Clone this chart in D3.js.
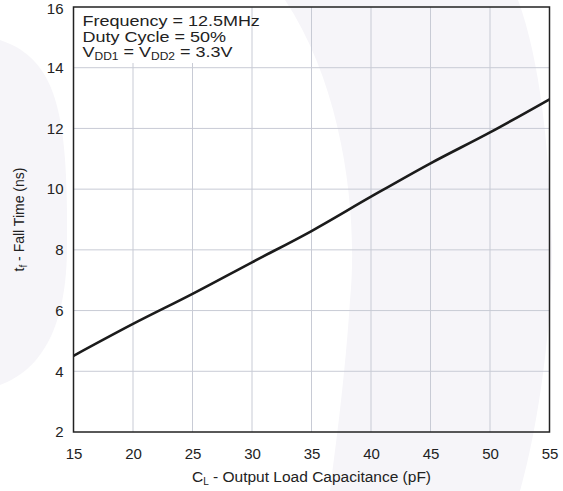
<!DOCTYPE html>
<html>
<head>
<meta charset="utf-8">
<script src="https://cdn.jsdelivr.net/npm/d3@7"></script>
<style>
  body { margin: 0; background: #fff; }
  svg { display: block; font-family: "Liberation Sans", Arial, sans-serif; }
</style>
</head>
<body>
<svg id="chart" width="563" height="491"></svg>
<script>
// fall time vs load capacitance
const capacitance = [15, 20, 25, 30, 35, 40, 45, 50, 55];
const fallTime = [4.51, 5.56, 6.55, 7.59, 8.62, 9.75, 10.85, 11.87, 12.96];
const xTicks = [15, 20, 25, 30, 35, 40, 45, 50, 55];
const yTicks = [2, 4, 6, 8, 10, 12, 14, 16];
const noteLines = ["Frequency = 12.5MHz", "Duty Cycle = 50%"];

const width = 563;
const height = 491;
const margin = {left: 73.5, right: 13.5, top: 7, bottom: 59};
const plotWidth = width - margin.left - margin.right;
const plotHeight = height - margin.top - margin.bottom;

const svg = d3.select("#chart");

// faint watermark in the background
const wmColor = "#f6f5f9";
svg.append("path")
    .attr("d", "M0,40 C60,60 68,120 67,250 C66,330 40,370 0,385 Z")
    .attr("fill", wmColor);
svg.append("path")
    .attr("d", "M285,0 C345,90 358,220 350,300 C345,380 335,450 330,491 L520,491 C540,420 552,320 552,250 C550,150 540,60 518,0 Z")
    .attr("fill", wmColor);

const xScale = d3.scaleLinear()
    .domain([15, 55])
    .range([0, plotWidth]);
const yScale = d3.scaleLinear()
    .domain([2, 16])
    .range([plotHeight, 0]);

const plot = svg.append("g")
    .attr("transform", `translate(${margin.left}, ${margin.top})`);

// grid
plot.append("g")
    .selectAll("line")
    .data(xTicks.slice(1, -1))
    .join("line")
    .attr("x1", d => xScale(d)).attr("x2", d => xScale(d))
    .attr("y1", 0).attr("y2", plotHeight)
    .attr("stroke", "#c8cbd5")
    .attr("stroke-width", 1);
plot.append("g")
    .selectAll("line")
    .data(yTicks.slice(1, -1))
    .join("line")
    .attr("x1", 0).attr("x2", plotWidth)
    .attr("y1", d => yScale(d)).attr("y2", d => yScale(d))
    .attr("stroke", "#c8cbd5")
    .attr("stroke-width", 1);

// axes (labels only, the frame is drawn below)
const xAxis = d3.axisBottom(xScale)
    .tickValues(xTicks)
    .tickSize(0)
    .tickPadding(16);
const yAxis = d3.axisLeft(yScale)
    .tickValues(yTicks)
    .tickSize(0)
    .tickPadding(10);

plot.append("g")
    .attr("transform", `translate(0, ${plotHeight})`)
    .call(xAxis)
    .call(g => g.select(".domain").remove())
    .call(g => g.selectAll("text")
        .attr("font-size", 15)
        .attr("font-family", "Liberation Sans, Arial, sans-serif")
        .attr("fill", "#222"));
plot.append("g")
    .call(yAxis)
    .call(g => g.select(".domain").remove())
    .call(g => g.selectAll("text")
        .attr("font-size", 15)
        .attr("font-family", "Liberation Sans, Arial, sans-serif")
        .attr("fill", "#222")
        .attr("dy", (d, i) => d === 16 ? "0.42em" : "0.32em"));

// the curve
const line = d3.line()
    .x((d, i) => xScale(capacitance[i]))
    .y(d => yScale(d))
    .curve(d3.curveMonotoneX);
plot.append("path")
    .datum(fallTime)
    .attr("fill", "none")
    .attr("stroke", "#1b1b1b")
    .attr("stroke-width", 2.6)
    .attr("d", line);

// conditions box
plot.append("rect")
    .attr("x", 2).attr("y", 0)
    .attr("width", 167).attr("height", 56)
    .attr("fill", "#fff");

const note = plot.append("g")
    .attr("transform", "translate(9, 0) scale(1.2, 1)");
const noteText = note.append("text")
    .attr("font-size", 15)
    .attr("fill", "#222");
noteText.selectAll("tspan.row")
    .data(noteLines)
    .join("tspan")
    .attr("class", "row")
    .attr("x", 0)
    .attr("y", (d, i) => 19.5 + i * 15.5)
    .text(d => d);
const vdd = noteText.append("tspan").attr("x", 0).attr("y", 50.5);
vdd.append("tspan").text("V");
vdd.append("tspan").attr("font-size", 10).attr("dy", 3).text("DD1");
vdd.append("tspan").attr("dy", -3).text(" = V");
vdd.append("tspan").attr("font-size", 10).attr("dy", 3).text("DD2");
vdd.append("tspan").attr("dy", -3).text(" = 3.3V");

// frame
plot.append("rect")
    .attr("x", 0).attr("y", 0)
    .attr("width", plotWidth).attr("height", plotHeight)
    .attr("fill", "none")
    .attr("stroke", "#222")
    .attr("stroke-width", 1.5);

// axis titles
const xTitle = svg.append("text")
    .attr("x", margin.left + plotWidth / 2)
    .attr("y", 482)
    .attr("text-anchor", "middle")
    .attr("font-size", 15.5)
    .attr("fill", "#222");
xTitle.append("tspan").text("C");
xTitle.append("tspan").attr("font-size", 10).attr("dy", 3).text("L");
xTitle.append("tspan").attr("dy", -3).text(" - Output Load Capacitance (pF)");

const yTitle = svg.append("text")
    .attr("transform", `translate(24, ${margin.top + plotHeight / 2}) rotate(-90)`)
    .attr("text-anchor", "middle")
    .attr("font-size", 14)
    .attr("fill", "#222");
yTitle.append("tspan").text("t");
yTitle.append("tspan").attr("font-size", 10).attr("dy", 3).text("f");
yTitle.append("tspan").attr("dy", -3).text(" - Fall Time (ns)");
</script>
</body>
</html>
